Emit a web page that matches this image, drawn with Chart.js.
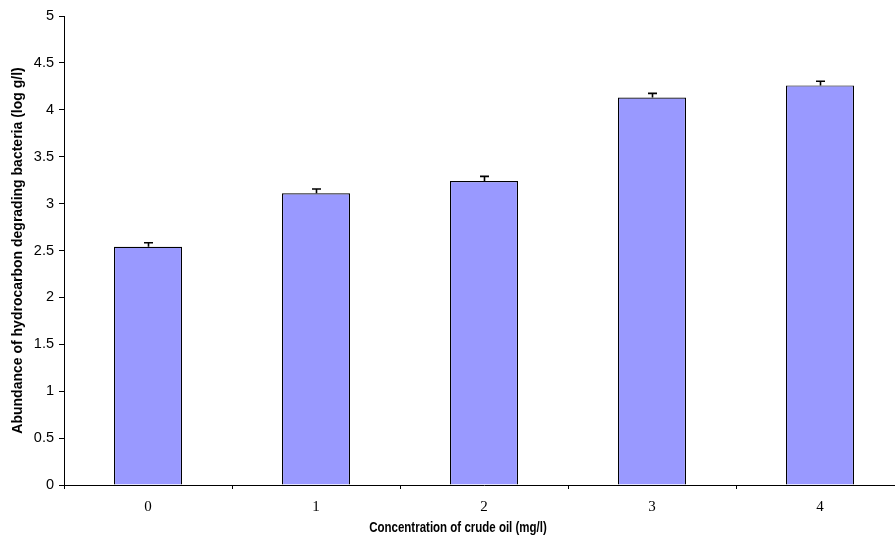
<!DOCTYPE html>
<html>
<head>
<meta charset="utf-8">
<script src="https://cdn.jsdelivr.net/npm/chart.js@4.4.1/dist/chart.umd.min.js"></script>
<style>
  html, body { margin: 0; padding: 0; background: #fff; overflow: hidden; }
  #wrap { position: absolute; left: 0; top: 0; width: 910px; height: 541px; }
</style>
</head>
<body>
<div id="wrap"><canvas id="c" width="910" height="541"></canvas></div>
<script>
// Crude oil concentration (mg/l) and bacterial abundance (log g/l)
const categories = ['0', '1', '2', '3', '4'];
const abundance = [2.54, 3.11, 3.24, 4.13, 4.26];
const abundanceErr = [0.043, 0.045, 0.05, 0.045, 0.045];
const yTicks = [0, 0.5, 1, 1.5, 2, 2.5, 3, 3.5, 4, 4.5, 5];

const xTitle = 'Concentration of crude oil (mg/l)';
const yTitle = 'Abundance of hydrocarbon degrading bacteria (log g/l)';

// Upper error bars with caps
const errorBars = {
  id: 'errorBars',
  afterDatasetsDraw(chart) {
    const ctx = chart.ctx;
    const meta = chart.getDatasetMeta(0);
    const y = chart.scales.y;
    ctx.save();
    ctx.strokeStyle = '#000';
    ctx.lineWidth = 1.6;
    meta.data.forEach((bar, i) => {
      const top = y.getPixelForValue(abundance[i]);
      const hi = y.getPixelForValue(abundance[i] + abundanceErr[i]);
      const x = Math.round(bar.x) + 0.5;
      ctx.beginPath();
      ctx.moveTo(x, top);
      ctx.lineTo(x, hi);
      ctx.moveTo(x - 4.5, hi);
      ctx.lineTo(x + 4.5, hi);
      ctx.stroke();
    });
    ctx.restore();
  }
};

// Axis titles
const axisTitles = {
  id: 'axisTitles',
  afterDraw(chart) {
    const ctx = chart.ctx;
    const area = chart.chartArea;
    ctx.save();
    ctx.fillStyle = '#000';
    ctx.textAlign = 'center';
    ctx.textBaseline = 'middle';
    ctx.save();
    ctx.translate(458, 528);
    ctx.scale(1, 1.2);
    ctx.font = 'bold 11.5px "Liberation Sans", Arial, sans-serif';
    ctx.fillText(xTitle, 0, 0);
    ctx.restore();
    ctx.font = 'bold 14px "Liberation Sans", Arial, sans-serif';
    ctx.translate(18, (area.top + area.bottom) / 2);
    ctx.rotate(-Math.PI / 2);
    ctx.fillText(yTitle, 0, 0);
    ctx.restore();
  }
};

new Chart(document.getElementById('c'), {
  type: 'bar',
  data: {
    labels: categories,
    datasets: [{
      data: abundance,
      backgroundColor: '#9999FF',
      borderColor: '#000',
      borderWidth: 1.2,
      categoryPercentage: 1,
      barPercentage: 0.405
    }]
  },
  options: {
    responsive: false,
    animation: false,
    devicePixelRatio: 1,
    layout: { padding: { top: 16, right: 6, left: 0, bottom: 0 } },
    plugins: { legend: { display: false }, tooltip: { enabled: false } },
    scales: {
      x: {
        offset: true,
        grid: {
          offset: true,
          drawOnChartArea: false,
          tickLength: 4,
          color: '#000'
        },
        border: { color: '#000', width: 1 },
        ticks: {
          color: '#000',
          padding: 9,
          font: { family: '"Liberation Serif", "Times New Roman", serif', size: 15 }
        },
        afterFit(scale) { scale.height = 56; }
      },
      y: {
        min: 0,
        max: 5,
        afterBuildTicks(scale) { scale.ticks = yTicks.map(v => ({ value: v })); },
        grid: {
          drawOnChartArea: false,
          tickLength: 5,
          color: '#000'
        },
        border: { color: '#000', width: 1 },
        ticks: {
          color: '#000',
          padding: 5,
          font: { family: '"Liberation Sans", Arial, sans-serif', size: 14.5 },
          callback: (v) => String(v)
        },
        afterFit(scale) { scale.width = 64; }
      }
    }
  },
  plugins: [errorBars, axisTitles]
});
</script>
</body>
</html>
